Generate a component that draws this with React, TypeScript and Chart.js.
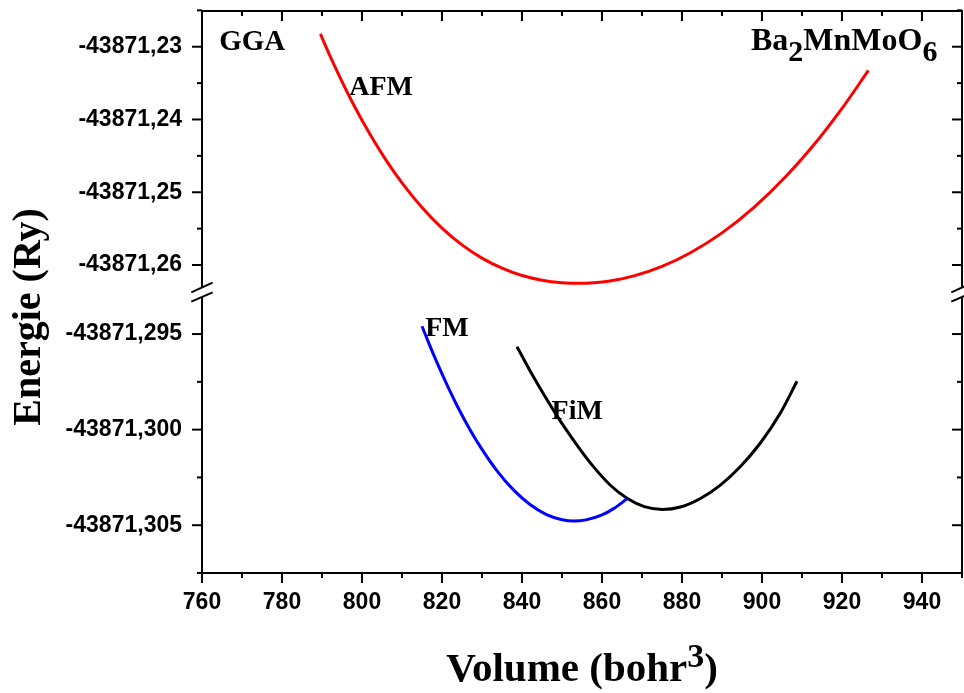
import React, { useEffect, useRef } from 'react';
import { Chart, registerables } from 'chart.js';

Chart.register(...registerables);

// ---- data ----
const afmVolume = [789.6, 792, 795, 798, 802, 806, 810, 815, 820, 825, 830, 835, 840, 845, 850, 854, 858, 862, 868, 875, 882, 890, 898, 906, 914, 920, 926.6];
const afmEnergy = [-43871.22824, -43871.23126, -43871.2348, -43871.23808, -43871.24204, -43871.24559, -43871.24872, -43871.2521, -43871.25492, -43871.25723, -43871.25905, -43871.26044, -43871.26145, -43871.26209, -43871.26243, -43871.26252, -43871.26244, -43871.26219, -43871.2615, -43871.2602, -43871.25835, -43871.25558, -43871.25207, -43871.2478, -43871.24278, -43871.23848, -43871.23326];

const fmVolume = [815, 818, 821, 824, 827, 830, 834, 838, 842, 846, 850, 853, 856, 860, 863, 866.25];
const fmEnergy = [-43871.29459, -43871.29613, -43871.29754, -43871.29884, -43871.3, -43871.30103, -43871.30222, -43871.30318, -43871.30392, -43871.30443, -43871.30471, -43871.30478, -43871.30472, -43871.30446, -43871.30412, -43871.30362];

const fimVolume = [838.75, 842.5, 846.25, 848.75, 851.25, 854.6, 857.9, 862.1, 866.25, 870.6, 875.1, 879.6, 884.6, 889.6, 894.6, 899.6, 904.6, 908.75];
const fimEnergy = [-43871.29566, -43871.2971, -43871.29844, -43871.29928, -43871.30007, -43871.30106, -43871.30195, -43871.30291, -43871.30359, -43871.30403, -43871.30418, -43871.30405, -43871.3036, -43871.3029, -43871.30193, -43871.3007, -43871.29913, -43871.29747];

// ---- axes / ticks ----
const xRange = [760, 950];
const xMajorTicks = [760, 780, 800, 820, 840, 860, 880, 900, 920, 940];
const xMinorTicks = [770, 790, 810, 830, 850, 870, 890, 910, 930, 950];

const yTopRange = [-43871.26371, -43871.22509];
const yTopMajorTicks = [-43871.23, -43871.24, -43871.25, -43871.26];
const yTopMinorTicks = [-43871.225, -43871.235, -43871.245, -43871.255];

const yBotRange = [-43871.3075, -43871.2928];
const yBotMajorTicks = [-43871.295, -43871.3, -43871.305];
const yBotMinorTicks = [-43871.2975, -43871.3025, -43871.3075];

// ---- annotations ----
const labelTexts = [
  { text: 'GGA', x: 764.3, y: -43871.23045, axis: 'yTop' },
  { text: 'AFM', x: 796.8, y: -43871.23664, axis: 'yTop' },
  { text: 'FM', x: 815.8, y: -43871.29512, axis: 'yBot' },
  { text: 'FiM', x: 847.4, y: -43871.29945, axis: 'yBot' },
];
const formulaParts = [
  { t: 'Ba', sub: false },
  { t: '2', sub: true },
  { t: 'MnMoO', sub: false },
  { t: '6', sub: true },
];
const formulaPos = { x: 897.25, y: -43871.23045, axis: 'yTop' };

const SERIF = '"Liberation Serif", "Times New Roman", serif';
const SANS = '"Liberation Sans", Arial, sans-serif';

const isIn = (v: number, arr: number[]) => arr.some((m) => Math.abs(m - v) < 1e-7);

const framePlugin = {
  id: 'framePlugin',
  afterDraw(chart: any) {
    const { ctx, chartArea: a, scales } = chart;
    const xs = scales.x;
    const yt = scales.yTop;
    const yb = scales.yBot;
    const S = Math.max(yt.bottom, yb.top) < a.bottom - 5 ? yt.bottom : yb.bottom;
    ctx.save();
    ctx.strokeStyle = '#000';
    ctx.lineWidth = 2;
    ctx.lineCap = 'butt';
    const line = (x1: number, y1: number, x2: number, y2: number) => {
      ctx.beginPath();
      ctx.moveTo(x1, y1);
      ctx.lineTo(x2, y2);
      ctx.stroke();
    };
    // frame
    line(a.left - 1, a.top, a.right + 1, a.top);
    line(a.left - 1, a.bottom, a.right + 1, a.bottom);
    for (const X of [a.left, a.right]) {
      line(X, a.top, X, S - 4.5);
      line(X, S + 5, X, a.bottom);
      line(X - 10.7, S + 0.3, X + 10.6, S - 9.3);
      line(X - 10.7, S + 9.7, X + 10.6, S + 0.3);
    }
    // x ticks
    for (const t of xs.ticks) {
      const px = xs.getPixelForValue(t.value);
      const len = isIn(t.value, xMajorTicks) ? 10 : 5;
      line(px, a.bottom, px, a.bottom + len);
      line(px, a.top, px, a.top + len);
    }
    // y ticks
    for (const [sc, majors] of [[yt, yTopMajorTicks], [yb, yBotMajorTicks]] as any) {
      for (const t of sc.ticks) {
        const py = sc.getPixelForValue(t.value);
        const len = isIn(t.value, majors) ? 10 : 5;
        line(a.left - len, py, a.left, py);
        line(a.right - len, py, a.right, py);
      }
    }
    // annotations
    ctx.fillStyle = '#000';
    ctx.textBaseline = 'alphabetic';
    ctx.textAlign = 'left';
    for (const l of labelTexts) {
      ctx.font = l.text === 'GGA' ? `bold 29px ${SERIF}` : `bold 28px ${SERIF}`;
      ctx.fillText(l.text, xs.getPixelForValue(l.x), scales[l.axis].getPixelForValue(l.y));
    }
    let fx = xs.getPixelForValue(formulaPos.x);
    const fy = scales[formulaPos.axis].getPixelForValue(formulaPos.y);
    for (const p of formulaParts) {
      ctx.font = p.sub ? `bold 30px ${SERIF}` : `bold 32px ${SERIF}`;
      ctx.fillText(p.t, fx, fy + (p.sub ? 11.5 : 0));
      fx += ctx.measureText(p.t).width;
    }
    // x title with superscript
    const main = `bold 41px ${SERIF}`;
    const sup = `bold 34px ${SERIF}`;
    const t1 = 'Volume (bohr';
    const t2 = '3';
    const t3 = ')';
    ctx.font = main;
    const w1 = ctx.measureText(t1).width;
    const w3 = ctx.measureText(t3).width;
    ctx.font = sup;
    const w2 = ctx.measureText(t2).width;
    const total = w1 + w2 + w3;
    let tx = (a.left + a.right) / 2 - total / 2;
    const ty = a.bottom + 108;
    ctx.font = main;
    ctx.fillText(t1, tx, ty);
    tx += w1;
    ctx.font = sup;
    ctx.fillText(t2, tx, ty - 14);
    tx += w2;
    ctx.font = main;
    ctx.fillText(t3, tx, ty);
    // y title
    ctx.save();
    ctx.translate(a.left - 162, a.top + 306);
    ctx.rotate(-Math.PI / 2);
    ctx.textAlign = 'center';
    ctx.font = `bold 40px ${SERIF}`;
    ctx.fillText('Energie (Ry)', 0, 0);
    ctx.restore();
    ctx.restore();
  },
};

const tickFont = { family: SANS, weight: 'bold' as const, size: 23 };

const zeroPad = (s: any) => {
  s.paddingLeft = 0;
  s.paddingRight = 0;
  s.paddingTop = 0;
  s.paddingBottom = 0;
};

const yScale = (range: number[], majors: number[], minors: number[], digits: number) => ({
  type: 'linear',
  position: 'left',
  stack: 'energy',
  stackWeight: 1,
  min: range[0],
  max: range[1],
  grid: { display: false, drawTicks: false },
  border: { display: false },
  afterBuildTicks: (s: any) => {
    s.ticks = [...majors, ...minors].sort((p, q) => p - q).map((v) => ({ value: v }));
  },
  afterFit: (s: any) => {
    s.width = 202;
    zeroPad(s);
  },
  ticks: {
    autoSkip: false,
    padding: 20,
    color: '#000',
    font: tickFont,
    callback: (v: any) => (isIn(Number(v), majors) ? Number(v).toFixed(digits).replace('.', ',') : ''),
  },
});

export default function App() {
  const ref = useRef<HTMLCanvasElement | null>(null);
  useEffect(() => {
    if (!ref.current) return;
    const toPts = (xs: number[], ys: number[]) => xs.map((x, i) => ({ x, y: ys[i] }));
    const ds = (label: string, xs: number[], ys: number[], color: string, axis: string) => ({
      label,
      data: toPts(xs, ys),
      yAxisID: axis,
      borderColor: color,
      backgroundColor: color,
      borderWidth: 3,
      pointRadius: 0,
      fill: false,
      cubicInterpolationMode: 'monotone' as const,
    });
    const chart = new Chart(ref.current, {
      type: 'line',
      data: {
        datasets: [
          ds('AFM', afmVolume, afmEnergy, '#ff0000', 'yTop'),
          ds('FM', fmVolume, fmEnergy, '#0000ff', 'yBot'),
          ds('FiM', fimVolume, fimEnergy, '#000000', 'yBot'),
        ],
      },
      options: {
        animation: false,
        responsive: false,
        maintainAspectRatio: false,
        layout: { autoPadding: false, padding: { top: 11, right: 2, left: 0, bottom: 0 } },
        plugins: { legend: { display: false }, tooltip: { enabled: false } },
        scales: {
          x: {
            type: 'linear',
            position: 'bottom',
            min: xRange[0],
            max: xRange[1],
            grid: { display: false, drawTicks: false },
            border: { display: false },
            afterBuildTicks: (s: any) => {
              s.ticks = [...xMajorTicks, ...xMinorTicks].sort((p, q) => p - q).map((v) => ({ value: v }));
            },
            afterFit: (s: any) => {
              s.height = 120;
              zeroPad(s);
            },
            ticks: {
              autoSkip: false,
              maxRotation: 0,
              padding: 16,
              color: '#000',
              font: tickFont,
              callback: (v: any) => (isIn(Number(v), xMajorTicks) ? String(v) : ''),
            },
          },
          yBot: yScale(yBotRange, yBotMajorTicks, yBotMinorTicks, 3),
          yTop: yScale(yTopRange, yTopMajorTicks, yTopMinorTicks, 2),
        },
      } as any,
      plugins: [framePlugin],
    });
    return () => chart.destroy();
  }, []);
  return (
    <div style={{ position: 'fixed', left: 0, top: 0, width: 964, height: 693, background: '#fff' }}>
      <canvas ref={ref} width={964} height={693} style={{ display: 'block' }} />
    </div>
  );
}
